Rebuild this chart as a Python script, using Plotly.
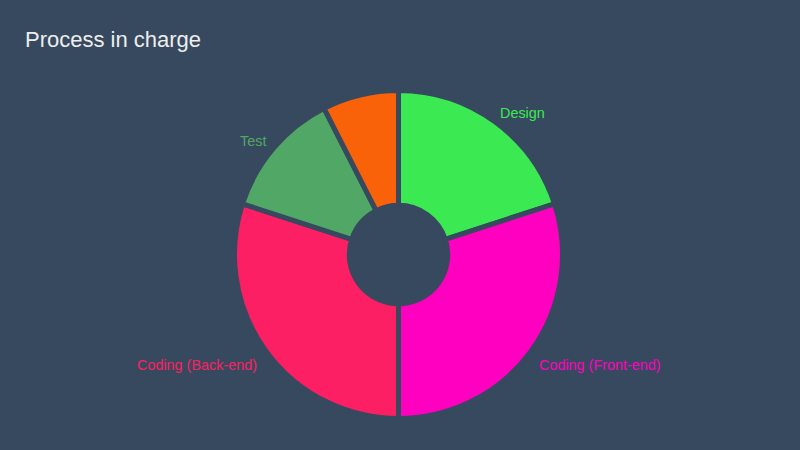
import math
import plotly.graph_objects as go

# ---- data ----
categories = ["Design", "Coding (Front-end)", "Coding (Back-end)", "Test", "Other"]
values = [20, 30, 30, 12.5, 7.5]
show_label = [True, True, True, True, False]
colors = ["#3bea53", "#ff00c0", "#fc1f64", "#51a866", "#f96208"]

BG = "#37495e"
W, H = 800, 450
CX, CY, R = 398.5, 254.5, 164
HOLE = 0.30
LABEL_R = 176

fig = go.Figure()
fig.add_trace(go.Pie(
    labels=categories, values=values, sort=False, direction="clockwise", rotation=0,
    hole=HOLE, textinfo="none", hoverinfo="label+value+percent",
    marker=dict(colors=colors, line=dict(color=BG, width=5)),
    domain=dict(x=[(CX - R) / W, (CX + R) / W], y=[(H - CY - R) / H, (H - CY + R) / H]),
    showlegend=False,
))

# labels placed outside at each slice's middle angle
total = sum(values)
cum = 0
annotations = []
for name, v, col, show in zip(categories, values, colors, show_label):
    mid = (cum + v / 2) / total * 2 * math.pi
    cum += v
    if not show:
        continue
    s, c = math.sin(mid), math.cos(mid)
    x = CX + LABEL_R * s - (4 if s >= 0 else -3)
    y = CY - LABEL_R * c + (7 if c < 0 else 0.5)
    annotations.append(dict(
        x=x, y=y, xref="x", yref="y", text=name, showarrow=False,
        xanchor="left" if s >= 0 else "right", yanchor="middle",
        font=dict(color=col, size=14.4, family="Liberation Sans, Arial, sans-serif"),
    ))

fig.update_layout(
    width=W, height=H, paper_bgcolor=BG, plot_bgcolor=BG,
    margin=dict(l=0, r=0, t=0, b=0),
    xaxis=dict(range=[0, W], visible=False, fixedrange=True),
    yaxis=dict(range=[H, 0], visible=False, fixedrange=True),
    title=dict(text="Process in charge", x=25 / W, xanchor="left", xref="container",
               y=1 - 39.5 / H, yanchor="middle", yref="container",
               font=dict(color="#eeeeee", size=22, family="Liberation Sans, Arial, sans-serif")),
    annotations=annotations,
)

fig.write_html("out.html", config={"displayModeBar": False},
               post_script="document.body.style.margin='0';document.body.style.overflow='hidden';")
